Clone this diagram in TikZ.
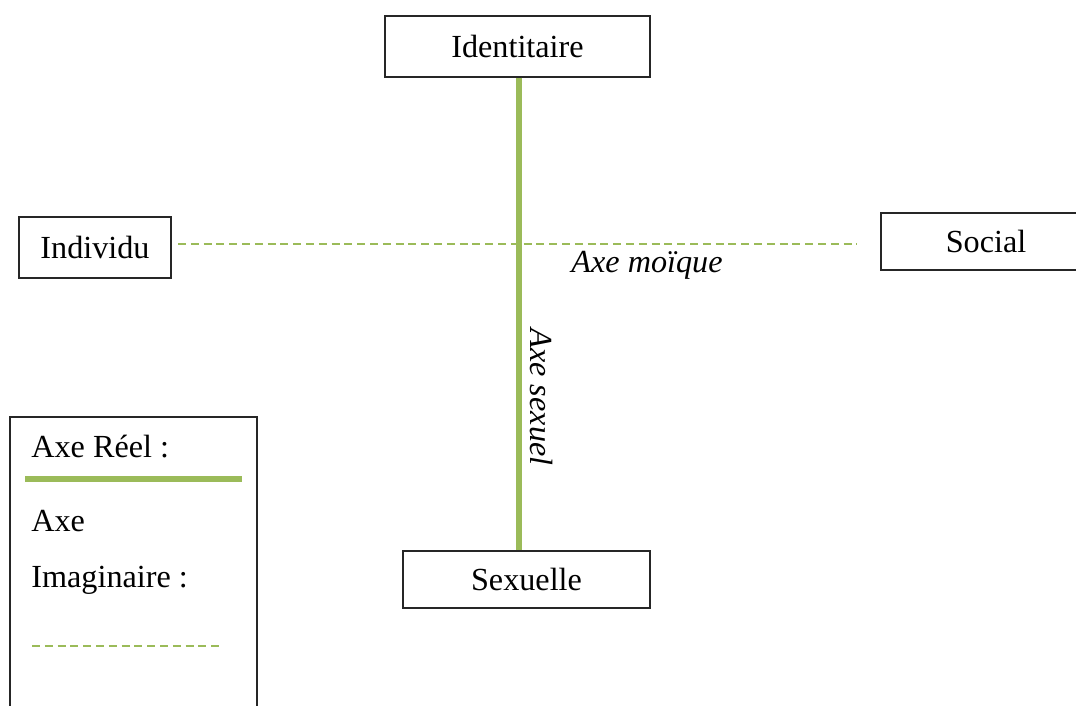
\documentclass[tikz,border=0pt]{standalone}
\usepackage{fontspec}
\setmainfont{Liberation Serif}
\definecolor{axegreen}{HTML}{9BBB59}
\begin{document}
\begin{tikzpicture}[x=.5pt,y=-.5pt,
    boite/.style={draw=black!85,line width=.7pt,inner sep=0pt,font=\fontsize{16.1}{19}\selectfont},
    texte/.style={inner sep=0pt,font=\fontsize{16.1}{19}\selectfont},
    reel/.style={axegreen,line width=3pt},
    imag/.style={axegreen,line width=1pt,dash pattern=on 4pt off 2.4pt}]
        \useasboundingbox (0,0) rectangle (1076,706);
        \clip (0,0) rectangle (1076,706);

        %% poles
        \node[boite,minimum width=132.5pt,minimum height=30.5pt] (ident) at (517.5,46.5) {Identitaire};
        \node[boite,minimum width=76pt,minimum height=30.5pt] (indiv) at (95,247.5) {Individu};
        \node[boite,minimum width=105pt,minimum height=28.5pt] (social) at (986,241.5) {Social};
        \node[boite,minimum width=123.5pt,minimum height=28.5pt] (sex) at (526.5,579.5) {Sexuelle};

        %% axes
        \draw[reel] ([xshift=.75pt]ident.south) -- ([xshift=.75pt]ident.south |- sex.north);
        \coordinate (moiG) at (178,243.5);
        \coordinate (moiD) at (857,243.5);
        \draw[imag] (moiG) -- (moiD);

        \node[texte,font=\fontsize{16.1}{19}\selectfont\itshape] (moique) at (647,265) {Axe moïque};
        \node[texte,font=\fontsize{16.1}{19}\selectfont\itshape,rotate=-90] (sexuel) at (541,397) {Axe sexuel};

        %% legend
        \node[draw=black!85,line width=.7pt,minimum width=123.5pt,minimum height=151.5pt] (legende) at (133.5,568.5) {};
        \node[texte,anchor=base west] (reeltxt) at (31,457) {Axe Réel :};
        \draw[reel] (25,479) -- (242,479);
        \node[texte,anchor=base west] (axetxt) at (31,531) {Axe};
        \node[texte,anchor=base west] (imagtxt) at (31,587) {Imaginaire :};
        \draw[imag] (32,646) -- (222,646);
\end{tikzpicture}
\end{document}
